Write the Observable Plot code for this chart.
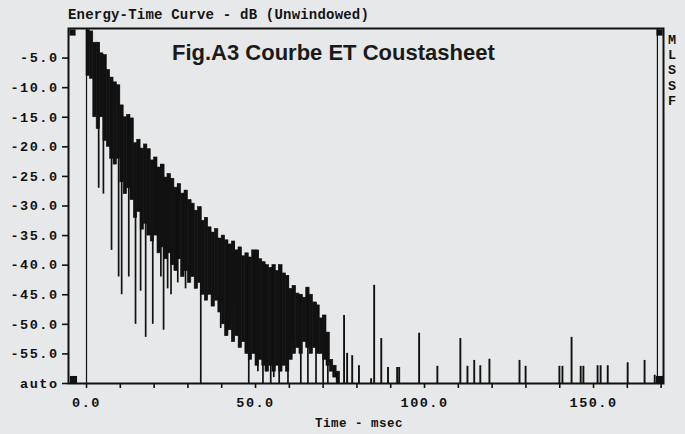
<!DOCTYPE html>
<html><head><meta charset="utf-8">
<script src="https://cdn.jsdelivr.net/npm/d3@7"></script>
<script src="https://cdn.jsdelivr.net/npm/@observablehq/plot@0.6"></script>
<style>
html,body{margin:0;padding:0;background:#e7e8e9;}
#wrap{position:relative;width:685px;height:434px;overflow:hidden;background:#e7e8e9;}
#wrap svg{position:absolute;left:0;top:0;}
#wrap svg text{letter-spacing:1.5px;}
.t{position:absolute;font-family:"Liberation Mono",monospace;font-weight:bold;color:#141414;white-space:nowrap;line-height:1;}
.fig{position:absolute;font-family:"Liberation Sans",Arial,sans-serif;font-weight:bold;color:#1a1a1a;white-space:nowrap;line-height:1;}
</style></head><body>
<div id="wrap"></div>
<script>
// ---- data ----
const chartTitle = "Energy-Time Curve - dB (Unwindowed)";
const figLabel = "Fig.A3 Courbe ET Coustasheet";
const xLabel = "Time - msec";
const sideLetters = ["M", "L", "S", "S", "F"];

// dense part: one value per 1 ms step, t = 0 .. 74 ms
const bandHi = [-0.3,-0.5,-2.4,-2.4,-4.2,-4.5,-7,-8.3,-9.1,-9.6,
  -13,-15,-14.6,-15.2,-19.4,-18.8,-20.3,-19.6,-20.4,-22.3,
  -21.8,-23.5,-23,-25.2,-24.6,-25.4,-26.9,-26.3,-27.9,-27.4,
  -29,-29.6,-30.8,-30.2,-32.5,-32,-33.6,-34.5,-33.9,-35.5,
  -35,-35.8,-36.5,-36,-37.5,-37,-38.5,-38,-38.7,-37.5,
  -37.5,-39,-39.5,-40,-40.5,-40,-41,-40,-41.4,-41.8,
  -44,-43.5,-44.8,-45,-45.5,-43.8,-45,-46.3,-46.8,-49,
  -48.5,-51.4,-56,-57,-58];
const bandLo = [-8,-8.5,-15,-17,-15,-19,-20,-22,-23,-22,
  -26,-28,-27,-29,-32,-31,-34,-33,-35,-36,
  -35,-38,-37,-39,-38,-40,-41,-39,-42,-41,
  -43,-42,-44,-43,-45,-46,-45,-47,-46,-48,
  -50,-52,-51,-53,-52,-54,-53,-55,-56,-55,
  -57,-56,-57,-58,-57,-58,-57,-58,-57,-58,
  -56,-55,-54,-55,-53,-54,-55,-54,-55,-55,
  -56,-57,-58,-59,-60];

// deep dips hanging below the dense band
const dipTime = [3.6,5,7.4,9.5,10.4,12.5,14.5,16,17.5,19.6,22,22.8,24,25,27,29.3,30.8,33.8,37.4,39.7,42.7,43.6,45,48,50.7,52.2,53,54.5,55.4,57,59.6,61,63.4,65.5,67.9,70,71.4];
const dipDb   = [-27,-28,-37.5,-42,-45,-42,-50,-44.4,-52.2,-50,-42,-51,-44,-45,-43,-44,-42,-60,-46,-50.7,-49,-47,-52,-60,-58,-60,-58,-60,-59,-60,-60,-53,-60,-60,-60,-60,-60];

// isolated late reflections
const spikeTime = [74.1,76.2,77.1,78.6,80.6,84.2,85.1,87.2,89.2,91.9,92.5,98.4,103.8,110.6,112.7,114.7,116.5,119.2,128.1,129.9,139.9,140.8,143.5,146.2,147,151.2,152.1,154.2,160.1,165.1,168.1];
const spikeDb   = [-58.3,-48.5,-54.9,-55.3,-57,-59.2,-43.4,-52.4,-57.3,-57.3,-57.3,-51.5,-57.1,-52.4,-57.1,-56.1,-57,-55.9,-56.1,-57.1,-57.1,-57.1,-52.2,-57.1,-57.1,-57,-57,-57,-56.5,-56.1,-58.6];

const cursorTime = [0, 168.9];
const yTicks = [-5,-10,-15,-20,-25,-30,-35,-40,-45,-50,-55,-60];
const xTicks = [0,10,20,30,40,50,60,70,80,90,100,110,120,130,140,150,160,170];
const xLabelTicks = [0,50,100,150];

// ---- build tables ----
const band = bandHi.map((hi, i) => ({t: i, hi, lo: bandLo[i]}));
const dips = dipTime.map((t, i) => ({t, db: dipDb[i], top: bandHi[Math.min(bandHi.length-1, Math.floor(t))]}));
const spikes = spikeTime.map((t, i) => ({t, db: spikeDb[i]}));

const ink = "#111";
const mono = "Liberation Mono";

const chart = Plot.plot({
  width: 685, height: 434,
  marginLeft: 68, marginRight: 22, marginTop: 28, marginBottom: 51,
  style: {background: "transparent", color: ink, fontFamily: mono},
  x: {domain: [-5.33, 170.7]},
  y: {domain: [-60, 0]},
  marks: [
    Plot.rect(band, {x1: "t", x2: d => d.t + 1, y1: "lo", y2: "hi", fill: ink, stroke: ink, strokeWidth: 0.6}),
    Plot.ruleX(dips, {x: "t", y1: "db", y2: "top", stroke: ink, strokeWidth: 1.7}),
    Plot.ruleX(spikes, {x: "t", y1: -60, y2: "db", stroke: ink, strokeWidth: 1.9}),
    Plot.ruleX(cursorTime, {stroke: ink, strokeWidth: 1.2}),
    Plot.axisY({ticks: yTicks, tickSize: 6, tickPadding: 4, tickFormat: d => d === -60 ? "auto" : d.toFixed(1),
      fontSize: 13.5, fontWeight: "bold", fontFamily: mono, strokeWidth: 1.6, label: null}),
    Plot.axisX({ticks: xTicks, tickSize: 5, tickFormat: () => "", strokeWidth: 1.6, label: null}),
    Plot.axisX({ticks: xLabelTicks, tickSize: 0, tickPadding: 14, tickFormat: d => d.toFixed(1),
      fontSize: 13.5, fontWeight: "bold", fontFamily: mono, label: null}),
    Plot.frame({stroke: ink, strokeWidth: 2}),
    Plot.dot([0], {frameAnchor: "top-left", symbol: "square", r: 3.5, dx: 4, dy: 4, fill: ink}),
    Plot.dot([0], {frameAnchor: "bottom-left", symbol: "square", r: 4, dx: 5, dy: -4, fill: ink}),
    Plot.dot([0], {frameAnchor: "bottom-right", symbol: "square", r: 4, dx: -4, dy: -4, fill: ink}),
    Plot.dot([0], {frameAnchor: "top-right", symbol: "square", r: 3.5, dx: -4, dy: 4, fill: ink})
  ]
});

const wrap = document.getElementById("wrap");
wrap.appendChild(chart);

function addText(cls, txt, left, top, size, extra) {
  const d = document.createElement("div");
  d.className = cls;
  d.textContent = txt;
  d.style.left = left + "px";
  d.style.top = top + "px";
  d.style.fontSize = size + "px";
  if (extra) Object.assign(d.style, extra);
  wrap.appendChild(d);
  return d;
}
addText("t", chartTitle, 68, 8, 14, {letterSpacing: "0.2px"});
addText("fig", figLabel, 172, 42, 22);
addText("t", xLabel, 315, 418, 12.5, {letterSpacing: "0.5px"});
sideLetters.forEach((s, i) => addText("t", s, 668, 34 + i * 15.2, 13.5));
</script>
</body></html>
